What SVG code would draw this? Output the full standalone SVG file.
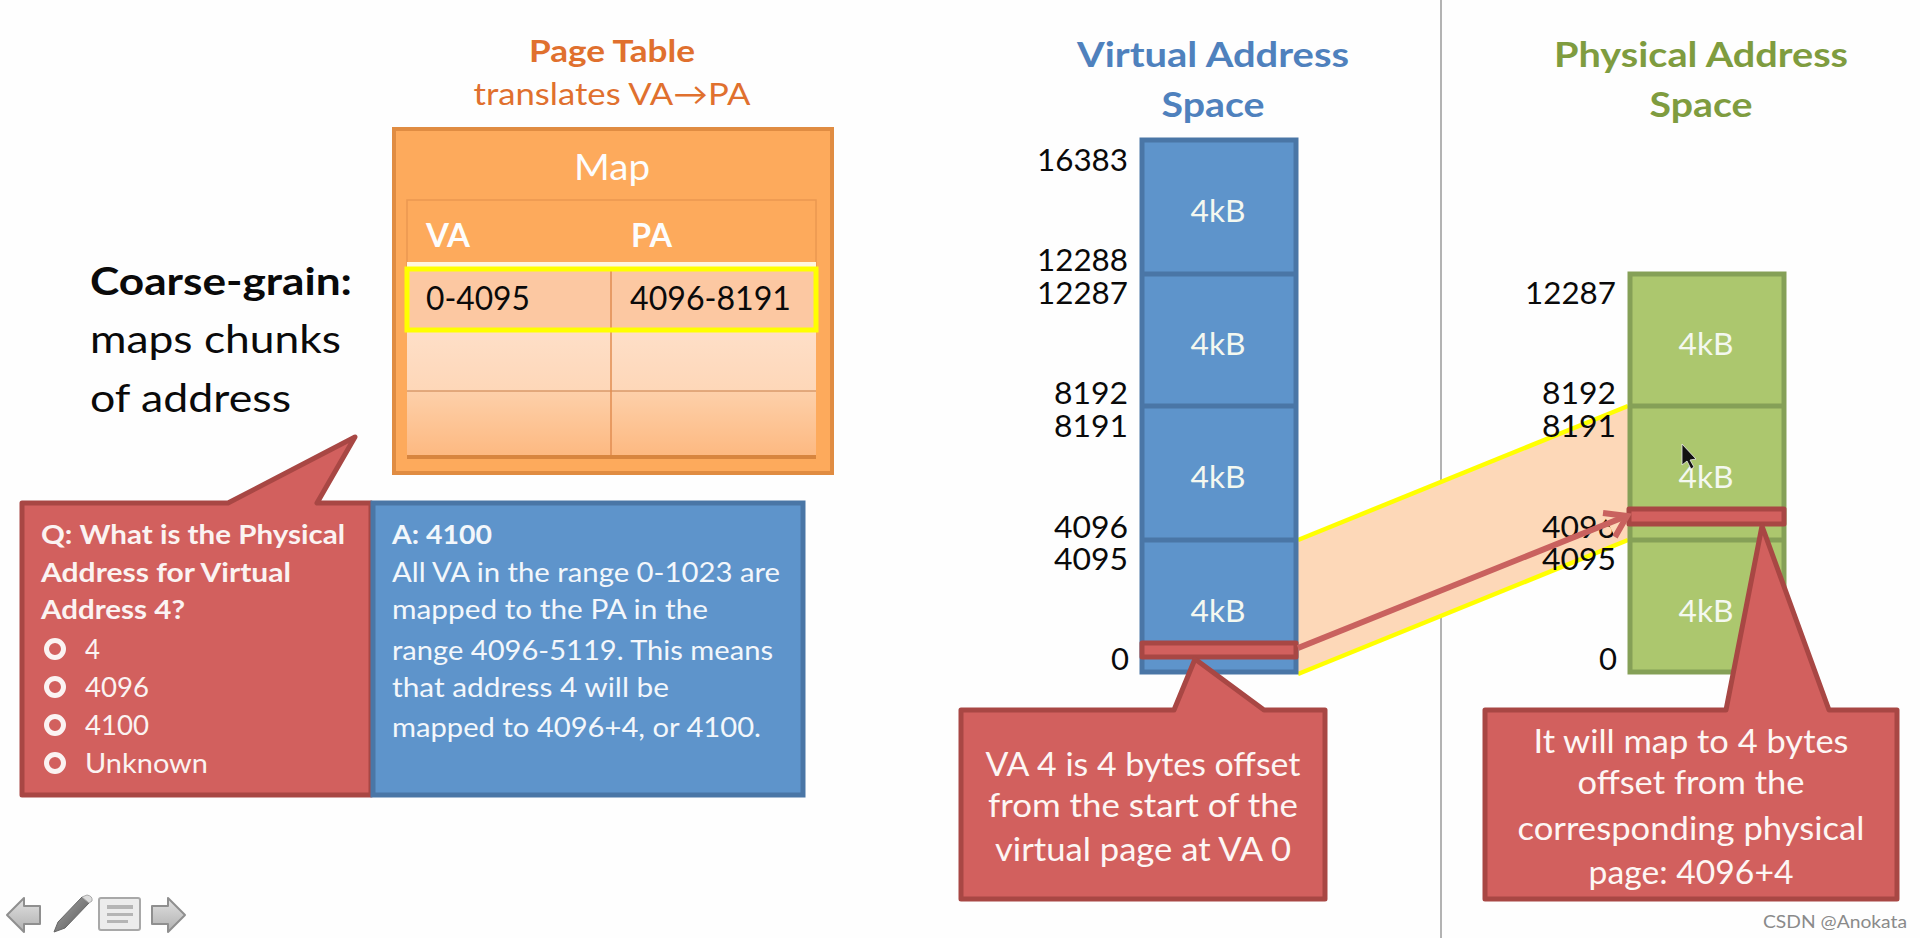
<svg xmlns="http://www.w3.org/2000/svg" width="1920" height="938" viewBox="0 0 1920 938">
<style>
text{font-family:"Lato","Liberation Sans",sans-serif}
.w{fill:#fdfdfd}
.k{fill:#0a0a0a}
.n{fill:#0a0a0a;font-size:31px;text-anchor:end}
.kb{fill:#f4f8f0;font-size:31px;text-anchor:middle}
.c{font-size:32px;text-anchor:middle;fill:#fdf6f4}
.q{font-size:27px;fill:#fbf3f2}
.a{font-size:27px;fill:#f3f7fb}
.h{font-size:35px;font-weight:700;text-anchor:middle}
.red{fill:#d2605e;stroke:#a84744;stroke-width:5;stroke-linejoin:round}
.bl{fill:#5e94cb;stroke:#4a76a6;stroke-width:5}
.gr{fill:#acc76e;stroke:#85a057;stroke-width:5}
.blline{stroke:#4a76a6;stroke-width:5}
.grline{stroke:#85a057;stroke-width:5}
.yl{stroke:#ffff00;stroke-width:4.5;fill:none}
.ic{fill:url(#icon);stroke:#8f8f8f;stroke-width:2;stroke-linejoin:round}
</style>
<defs>
<linearGradient id="icon" x1="0" y1="0" x2="0" y2="1"><stop offset="0" stop-color="#e2e2e2"/><stop offset="1" stop-color="#b0b0b0"/></linearGradient>
<linearGradient id="row3" x1="0" y1="0" x2="0" y2="1"><stop offset="0" stop-color="#fdd0aa"/><stop offset="1" stop-color="#fdb981"/></linearGradient>
<linearGradient id="row2" x1="0" y1="0" x2="0" y2="1"><stop offset="0" stop-color="#fedfc8"/><stop offset="1" stop-color="#fed7b8"/></linearGradient>
<linearGradient id="pen" x1="0" y1="0" x2="1" y2="1"><stop offset="0" stop-color="#a8a8a8"/><stop offset="1" stop-color="#555"/></linearGradient>
</defs>
<rect width="1920" height="938" fill="#fefefe"/>
<line x1="1441" y1="0" x2="1441" y2="938" stroke="#b3b3b3" stroke-width="2"/>

<g id="page-table">
<text x="612" y="62" text-anchor="middle" font-size="31" font-weight="700" fill="#e0702e" textLength="166" lengthAdjust="spacingAndGlyphs">Page Table</text>
<text x="612" y="105" text-anchor="middle" font-size="31" fill="#e0702e" textLength="277" lengthAdjust="spacingAndGlyphs">translates VA→PA</text>
<rect x="394" y="129" width="438" height="344" fill="#fdaa5c" stroke="#e08c42" stroke-width="4"/>
<text x="612" y="180" text-anchor="middle" font-size="36" class="w" textLength="76" lengthAdjust="spacingAndGlyphs">Map</text>
<rect x="407" y="200" width="409" height="68" fill="#fdaa5c" stroke="#ea9850" stroke-width="1.5"/>
<rect x="407" y="268" width="409" height="63" fill="#fcc8a2"/>
<rect x="407" y="331" width="409" height="60" fill="url(#row2)"/>
<rect x="407" y="391" width="409" height="64" fill="url(#row3)"/>
<rect x="407" y="455" width="409" height="4" fill="#d8853e"/>
<line x1="407" y1="391" x2="816" y2="391" stroke="#d89a6a" stroke-width="1.5"/>
<line x1="611" y1="268" x2="611" y2="455" stroke="#e08c50" stroke-width="1.5"/>
<rect x="407" y="262" width="409" height="5" fill="#fff6e0"/>
<rect x="407" y="269" width="409" height="61" fill="none" stroke="#ffff00" stroke-width="5"/>
<text x="426" y="247" font-size="32" font-weight="700" class="w" textLength="44" lengthAdjust="spacingAndGlyphs">VA</text>
<text x="631" y="247" font-size="32" font-weight="700" class="w" textLength="41" lengthAdjust="spacingAndGlyphs">PA</text>
<text x="426" y="310" font-size="32" class="k" textLength="104" lengthAdjust="spacingAndGlyphs">0-4095</text>
<text x="630" y="310" font-size="32" class="k" textLength="161" lengthAdjust="spacingAndGlyphs">4096-8191</text>
</g>

<g id="coarse-grain">
<text x="90" y="295" font-size="38" font-weight="700" class="k" textLength="262" lengthAdjust="spacingAndGlyphs">Coarse-grain:</text>
<text x="90" y="353" font-size="38" class="k" textLength="251" lengthAdjust="spacingAndGlyphs">maps chunks</text>
<text x="90" y="412" font-size="38" class="k" textLength="201" lengthAdjust="spacingAndGlyphs">of address</text>
</g>

<g id="question-box">
<path d="M22 503H228L355 437L317 503H371V795H22Z" class="red"/>
<text x="41" y="544" class="q" font-weight="700" textLength="304" lengthAdjust="spacingAndGlyphs">Q: What is the Physical</text>
<text x="41" y="582" class="q" font-weight="700" textLength="250" lengthAdjust="spacingAndGlyphs">Address for Virtual</text>
<text x="41" y="619" class="q" font-weight="700" textLength="144" lengthAdjust="spacingAndGlyphs">Address 4?</text>
<g fill="none" stroke="#fbf3f2" stroke-width="5">
<circle cx="55" cy="649" r="8.5"/><circle cx="55" cy="687" r="8.5"/><circle cx="55" cy="725" r="8.5"/><circle cx="55" cy="763" r="8.5"/>
</g>
<text x="85" y="659" class="q" textLength="15" lengthAdjust="spacingAndGlyphs">4</text>
<text x="85" y="697" class="q" textLength="64" lengthAdjust="spacingAndGlyphs">4096</text>
<text x="85" y="735" class="q" textLength="64" lengthAdjust="spacingAndGlyphs">4100</text>
<text x="85" y="773" class="q" textLength="123" lengthAdjust="spacingAndGlyphs">Unknown</text>
</g>

<g id="answer-box">
<rect x="373" y="503" width="430" height="292" class="bl"/>
<text x="392" y="544" class="a" font-weight="700" textLength="100" lengthAdjust="spacingAndGlyphs">A: 4100</text>
<text x="392" y="582" class="a" textLength="388" lengthAdjust="spacingAndGlyphs">All VA in the range 0-1023 are</text>
<text x="392" y="619" class="a" textLength="316" lengthAdjust="spacingAndGlyphs">mapped to the PA in the</text>
<text x="392" y="660" class="a" textLength="381" lengthAdjust="spacingAndGlyphs">range 4096-5119. This means</text>
<text x="392" y="697" class="a" textLength="277" lengthAdjust="spacingAndGlyphs">that address 4 will be</text>
<text x="392" y="737" class="a" textLength="369" lengthAdjust="spacingAndGlyphs">mapped to 4096+4, or 4100.</text>
</g>

<g id="connectors">
<polygon points="1298,540 1628,406 1628,540 1298,674" fill="#fdd8b8"/>
<line x1="1298" y1="540" x2="1628" y2="406" class="yl"/>
<line x1="1298" y1="674" x2="1628" y2="540" class="yl"/>
</g>

<g id="virtual-space">
<text x="1213" y="67" class="h" fill="#4f81bd" textLength="272" lengthAdjust="spacingAndGlyphs">Virtual Address</text>
<text x="1213" y="117" class="h" fill="#4f81bd" textLength="103" lengthAdjust="spacingAndGlyphs">Space</text>
<rect x="1142" y="140" width="154" height="532" class="bl"/>
<line x1="1142" y1="274" x2="1296" y2="274" class="blline"/>
<line x1="1142" y1="406" x2="1296" y2="406" class="blline"/>
<line x1="1142" y1="540" x2="1296" y2="540" class="blline"/>
<text x="1218" y="222" class="kb" textLength="55" lengthAdjust="spacingAndGlyphs">4kB</text>
<text x="1218" y="355" class="kb" textLength="55" lengthAdjust="spacingAndGlyphs">4kB</text>
<text x="1218" y="488" class="kb" textLength="55" lengthAdjust="spacingAndGlyphs">4kB</text>
<text x="1218" y="622" class="kb" textLength="55" lengthAdjust="spacingAndGlyphs">4kB</text>
<text x="1128" y="171" class="n" textLength="91" lengthAdjust="spacingAndGlyphs">16383</text>
<text x="1128" y="271" class="n" textLength="91" lengthAdjust="spacingAndGlyphs">12288</text>
<text x="1128" y="304" class="n" textLength="91" lengthAdjust="spacingAndGlyphs">12287</text>
<text x="1128" y="404" class="n" textLength="74" lengthAdjust="spacingAndGlyphs">8192</text>
<text x="1128" y="437" class="n" textLength="74" lengthAdjust="spacingAndGlyphs">8191</text>
<text x="1128" y="538" class="n" textLength="74" lengthAdjust="spacingAndGlyphs">4096</text>
<text x="1128" y="570" class="n" textLength="74" lengthAdjust="spacingAndGlyphs">4095</text>
<text x="1129" y="670" class="n" textLength="18" lengthAdjust="spacingAndGlyphs">0</text>
<rect x="1142" y="643" width="154" height="14" class="red"/>
</g>

<g id="physical-space">
<text x="1701" y="67" class="h" fill="#7f9c3f" textLength="294" lengthAdjust="spacingAndGlyphs">Physical Address</text>
<text x="1701" y="117" class="h" fill="#7f9c3f" textLength="103" lengthAdjust="spacingAndGlyphs">Space</text>
<rect x="1630" y="274" width="154" height="398" class="gr"/>
<line x1="1630" y1="406" x2="1784" y2="406" class="grline"/>
<line x1="1630" y1="540" x2="1784" y2="540" class="grline"/>
<text x="1706" y="355" class="kb" textLength="55" lengthAdjust="spacingAndGlyphs">4kB</text>
<text x="1706" y="488" class="kb" textLength="55" lengthAdjust="spacingAndGlyphs">4kB</text>
<text x="1706" y="622" class="kb" textLength="55" lengthAdjust="spacingAndGlyphs">4kB</text>
<text x="1616" y="304" class="n" textLength="91" lengthAdjust="spacingAndGlyphs">12287</text>
<text x="1616" y="404" class="n" textLength="74" lengthAdjust="spacingAndGlyphs">8192</text>
<text x="1616" y="437" class="n" textLength="74" lengthAdjust="spacingAndGlyphs">8191</text>
<text x="1616" y="538" class="n" textLength="74" lengthAdjust="spacingAndGlyphs">4096</text>
<text x="1616" y="570" class="n" textLength="74" lengthAdjust="spacingAndGlyphs">4095</text>
<text x="1617" y="670" class="n" textLength="18" lengthAdjust="spacingAndGlyphs">0</text>
<rect x="1629" y="509" width="155" height="15" class="red"/>
</g>

<g id="mapping-arrow" fill="none" stroke="#c9625f" stroke-width="6" stroke-linejoin="miter">
<path d="M1603 513L1627 516L1615 537Z" fill="#fdd8b8" stroke="none"/>
<line x1="1298" y1="648" x2="1624" y2="517"/>
<polyline points="1603,513 1627,516 1615,537"/>
</g>

<g id="cursor">
<path d="M1682 444L1682 465L1687 461L1691 469L1694 467L1690 460L1696 459Z" fill="#111" stroke="#eee" stroke-width="0.8"/>
</g>

<g id="va-callout">
<path d="M961 710H1174L1195 659L1264 710H1325V899H961Z" class="red"/>
<text x="1143" y="776" class="c" textLength="315" lengthAdjust="spacingAndGlyphs">VA 4 is 4 bytes offset</text>
<text x="1143" y="817" class="c" textLength="310" lengthAdjust="spacingAndGlyphs">from the start of the</text>
<text x="1143" y="861" class="c" textLength="296" lengthAdjust="spacingAndGlyphs">virtual page at VA 0</text>
</g>

<g id="pa-callout">
<path d="M1485 710H1726L1762 526L1829 710H1897V899H1485Z" class="red"/>
<text x="1691" y="753" class="c" textLength="315" lengthAdjust="spacingAndGlyphs">It will map to 4 bytes</text>
<text x="1691" y="794" class="c" textLength="227" lengthAdjust="spacingAndGlyphs">offset from the</text>
<text x="1691" y="840" class="c" textLength="347" lengthAdjust="spacingAndGlyphs">corresponding physical</text>
<text x="1691" y="884" class="c" textLength="205" lengthAdjust="spacingAndGlyphs">page: 4096+4</text>
</g>

<g id="nav-icons">
<path d="M7 915L24 898V906H40V924H24V932Z" class="ic"/>
<path d="M54 932L58 922L82 897L89 903L65 928Z" fill="url(#pen)" stroke="#666" stroke-width="1"/>
<path d="M82 897L87 895Q93 896 92 901L89 903Z" fill="#ddd" stroke="#aaa" stroke-width="1"/>
<rect x="99" y="898" width="41" height="32" rx="2" fill="#ececec" stroke="#a8a8a8" stroke-width="2"/>
<rect x="107" y="905" width="26" height="4" fill="#b5b5b5"/>
<rect x="107" y="913" width="26" height="3" fill="#b5b5b5"/>
<rect x="107" y="920" width="21" height="3" fill="#b5b5b5"/>
<path d="M185 915L168 898V906H152V924H168V932Z" class="ic"/>
</g>

<text x="1763" y="928" font-size="17" fill="#8a8a8a" textLength="144" lengthAdjust="spacingAndGlyphs">CSDN @Anokata</text>
</svg>
